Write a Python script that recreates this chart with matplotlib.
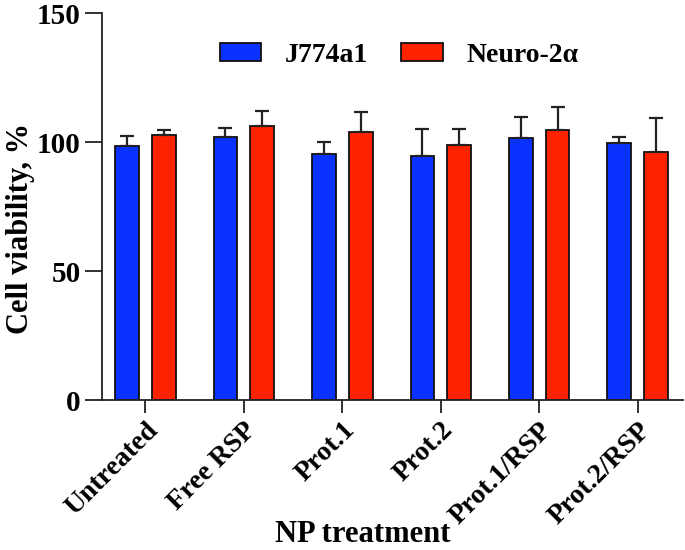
import numpy as np
import matplotlib
matplotlib.use("Agg")
import matplotlib.pyplot as plt

plt.rcParams['font.family'] = ['Liberation Serif', 'DejaVu Serif']
plt.rcParams['font.weight'] = 'bold'

# data
treatments = ["Untreated", "Free RSP", "Prot.1", "Prot.2", "Prot.1/RSP", "Prot.2/RSP"]
j774_mean = [98.6, 101.9, 95.5, 94.7, 101.7, 99.6]
j774_err = [3.8, 3.8, 4.6, 10.6, 8.1, 2.3]
neuro_mean = [102.7, 106.2, 104.1, 98.8, 104.8, 96.1]
neuro_err = [1.9, 5.9, 7.7, 6.5, 8.9, 13.2]

blue = '#0a32ff'
red = '#ff2200'

fig = plt.figure(figsize=(6.85, 5.5), dpi=100)
ax = fig.add_axes([0.149, 0.2727, 0.848, 0.7028])

x = np.arange(len(treatments))
w = 0.24
off = 0.187

ax.bar(x - off, j774_mean, w, color=blue, edgecolor='#111111', lw=1.3,
       yerr=[np.zeros(len(x)), j774_err], capsize=5,
       error_kw=dict(ecolor='#222222', elinewidth=1.6, capthick=1.6),
       label='J774a1', zorder=2)
ax.bar(x + off, neuro_mean, w, color=red, edgecolor='#111111', lw=1.3,
       yerr=[np.zeros(len(x)), neuro_err], capsize=5,
       error_kw=dict(ecolor='#222222', elinewidth=1.6, capthick=1.6),
       label='Neuro-2α', zorder=2)

ax.set_xlim(-0.44, 5.46)
ax.set_ylim(0, 150)
ax.set_yticks([0, 50, 100, 150])
ax.set_xticks(x)
ax.set_xticklabels(treatments, rotation=45, ha='right', rotation_mode='anchor')

for s in ['top', 'right']:
    ax.spines[s].set_visible(False)
for s in ['left', 'bottom']:
    ax.spines[s].set_linewidth(1.3)
    ax.spines[s].set_color('#222222')

ax.tick_params(axis='both', width=1.3, color='#222222')
ax.tick_params(axis='y', length=12, labelsize=21)
ax.tick_params(axis='x', length=9.5, labelsize=20, pad=3)

ax.set_xlabel('NP treatment', fontsize=22, fontweight='bold')
ax.set_ylabel('Cell viability, %', fontsize=22, fontweight='bold')
ax.xaxis.set_label_coords(0.448, -0.31)
ax.yaxis.set_label_coords(-0.115, 0.445)

ax.legend(loc='center', bbox_to_anchor=(0.511, 0.891), ncol=2, frameon=False,
          fontsize=20, handlelength=1.51, handleheight=0.63,
          handletextpad=0.83, columnspacing=1.2)

fig.savefig('out.png', dpi=100)
